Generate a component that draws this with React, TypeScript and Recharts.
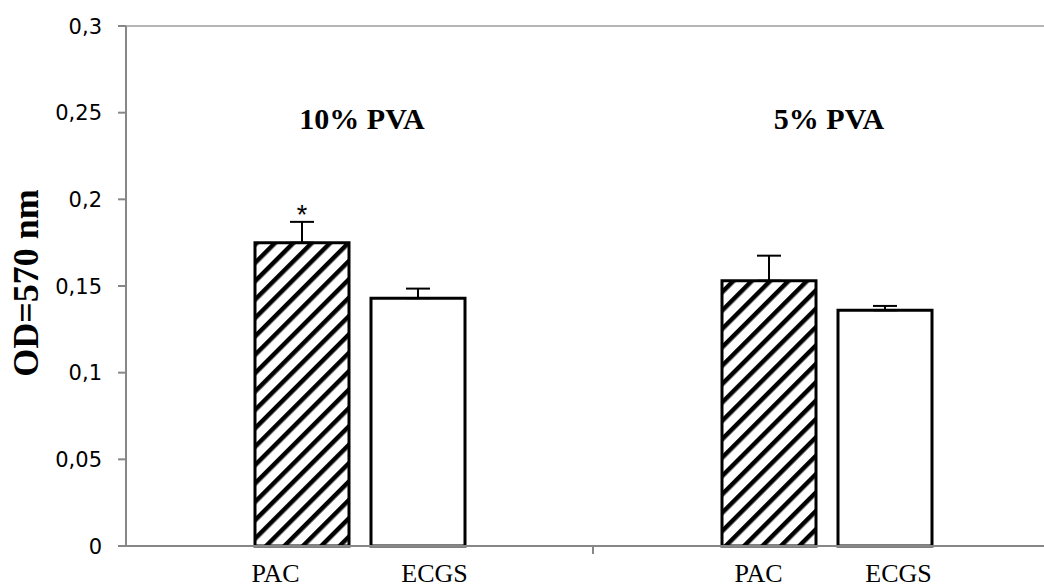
import React from 'react';
import {
  BarChart,
  Bar,
  XAxis,
  YAxis,
  ErrorBar,
  LabelList,
  ReferenceLine,
} from 'recharts';

// absorbance per PVA concentration, two media
const groups = ['10% PVA', '5% PVA'];
const seriesNames = ['PAC', 'ECGS'];
const pacMeans = [0.175, 0.153];
const pacErrors = [0.012, 0.0145];
const ecgsMeans = [0.143, 0.136];
const ecgsErrors = [0.0055, 0.0025];
const pacMarks = ['*', ''];
const yTicks = [0, 0.05, 0.1, 0.15, 0.2, 0.25, 0.3];

const rows = groups.map((g, i) => ({
  group: g,
  pac: pacMeans[i],
  pacErr: [0, pacErrors[i]],
  ecgs: ecgsMeans[i],
  ecgsErr: [0, ecgsErrors[i]],
  mark: pacMarks[i],
}));

const CHART_W = 1080;
const CHART_H = 587;
const PLOT_TOP = 26;
const PLOT_LEFT = 126;
const PLOT_RIGHT = 1060;
const BAR_W = 94;
const BAR_GAP = 22;
const BAND = (PLOT_RIGHT - PLOT_LEFT) / groups.length;
// hand-placed label offsets under each bar, per group
const LABEL_DX = [
  [-84, 75],
  [-68, 72],
];

const AXIS_GREY = '#878787';
const serif = '"Liberation Serif", "Times New Roman", serif';
const sans = '"DejaVu Sans", "Open Sans", sans-serif';

const CategoryTick = (props: any) => {
  const { x, y, index } = props;
  const dx = LABEL_DX[index] || [-76, 74];
  return (
    <g>
      {index < groups.length - 1 && (
        <line x1={x + BAND / 2} x2={x + BAND / 2} y1={y} y2={y + 8} stroke={AXIS_GREY} strokeWidth={2} />
      )}
      {seriesNames.map((name, k) => (
        <text
          key={name}
          x={x + dx[k]}
          y={y + 36}
          textAnchor="middle"
          style={{ fontFamily: serif, fontSize: 26 }}
          fill="#000"
        >
          {name}
        </text>
      ))}
    </g>
  );
};

const ValueTick = (props: any) => {
  const { x, y, payload } = props;
  return (
    <text
      x={x}
      y={y}
      dy={7.5}
      textAnchor="end"
      style={{ fontFamily: sans, fontSize: 21 }}
      fill="#000"
    >
      {String(payload.value).replace('.', ',')}
    </text>
  );
};

// group title centred over the pair of bars, sitting at a fixed height
const GroupTitle = (props: any) => {
  const { x, width, value } = props;
  return (
    <text
      x={x + width + BAR_GAP / 2 + 2}
      y={PLOT_TOP + 103}
      textAnchor="middle"
      style={{ fontFamily: serif, fontWeight: 'bold', fontSize: 30 }}
      fill="#000"
    >
      {value}
    </text>
  );
};

const MarkLabel = (props: any) => {
  const { x, y, width, height, value, index } = props;
  const mark = rows[index]?.mark;
  if (!mark) return null;
  const pxPerUnit = height / value;
  const top = y - pacErrors[index] * pxPerUnit;
  return (
    <text
      x={x + width / 2}
      y={top + 2}
      textAnchor="middle"
      style={{ fontFamily: '"Liberation Sans", Arial, sans-serif', fontSize: 27 }}
      fill="#000"
    >
      {mark}
    </text>
  );
};

const YTitle = (props: any) => {
  const { viewBox } = props;
  const cx = viewBox.x + 26;
  const cy = viewBox.y + viewBox.height / 2 - 3;
  return (
    <text
      x={cx}
      y={cy}
      transform={`rotate(-90, ${cx}, ${cy})`}
      textAnchor="middle"
      dominantBaseline="central"
      style={{ fontFamily: serif, fontWeight: 'bold', fontSize: 36 }}
      fill="#000"
    >
      OD=570 nm
    </text>
  );
};

export default function App() {
  return (
    <div style={{ position: 'absolute', left: 0, top: 0, width: 1044, height: 587, overflow: 'hidden', background: '#fff' }}>
      <BarChart
        width={CHART_W}
        height={CHART_H}
        data={rows}
        margin={{ top: PLOT_TOP, right: CHART_W - PLOT_RIGHT, bottom: 0, left: 0 }}
        barSize={BAR_W}
        barGap={BAR_GAP}
      >
        <defs>
          <pattern id="hatch" patternUnits="userSpaceOnUse" width={13} height={13} patternTransform="rotate(45)">
            <rect width={13} height={13} fill="#fff" />
            <rect x={0} width={4.5} height={13} fill="#000" />
          </pattern>
        </defs>
        <XAxis
          dataKey="group"
          axisLine={{ stroke: AXIS_GREY, strokeWidth: 2 }}
          tickLine={false}
          tickSize={0}
          tickMargin={0}
          height={41}
          interval={0}
          tick={<CategoryTick />}
        />
        <YAxis
          width={PLOT_LEFT}
          domain={[0, 0.3]}
          ticks={yTicks}
          interval={0}
          axisLine={{ stroke: AXIS_GREY, strokeWidth: 2 }}
          tickLine={{ stroke: AXIS_GREY, strokeWidth: 2 }}
          tickSize={8}
          tickMargin={16}
          tick={<ValueTick />}
          label={{ value: 'OD=570 nm', content: <YTitle /> }}
        />
        <ReferenceLine y={0.3} stroke="#b5b5b5" strokeWidth={2} />
        <Bar dataKey="pac" fill="url(#hatch)" stroke="#000" strokeWidth={3} isAnimationActive={false}>
          <ErrorBar dataKey="pacErr" width={12} stroke="#000" strokeWidth={2} direction="y" />
          <LabelList dataKey="pac" content={<MarkLabel />} />
          <LabelList dataKey="group" content={<GroupTitle />} />
        </Bar>
        <Bar dataKey="ecgs" fill="#fff" stroke="#000" strokeWidth={3} isAnimationActive={false}>
          <ErrorBar dataKey="ecgsErr" width={12} stroke="#000" strokeWidth={2} direction="y" />
        </Bar>
      </BarChart>
    </div>
  );
}
